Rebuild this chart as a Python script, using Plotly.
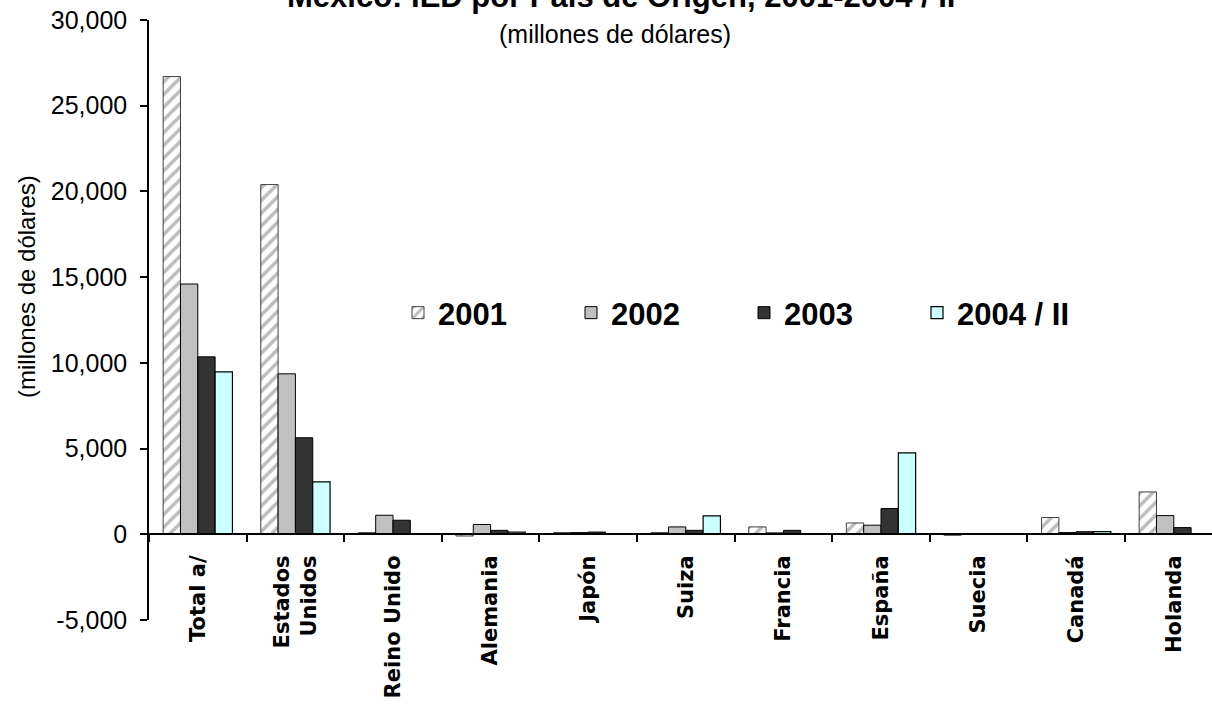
import plotly.graph_objects as go

categories = ["Total a/", "Estados<br>Unidos", "Reino Unido", "Alemania", "Japón", "Suiza",
              "Francia", "España", "Suecia", "Canadá", "Holanda"]
v2001 = [26700, 20400, 100, -100, 100, 100, 430, 660, -60, 980, 2470]
v2002 = [14600, 9360, 1110, 570, 100, 430, 80, 530, 0, 100, 1090]
v2003 = [10350, 5630, 820, 230, 130, 230, 230, 1500, 0, 150, 390]
v2004 = [9470, 3060, 0, 130, 0, 1070, 0, 4750, 0, 150, 0]
series_names = ["2001", "2002", "2003", "2004 / II"]
y_ticks = [-5000, 0, 5000, 10000, 15000, 20000, 25000, 30000]
y_ticktext = ["-5,000", "0", "5,000", "10,000", "15,000", "20,000", "25,000", "30,000"]

fig = go.Figure()
fig.add_trace(go.Bar(
    name=series_names[0], x=categories, y=v2001,
    marker=dict(color="white", line=dict(color="#404040", width=1),
                pattern=dict(shape="/", fgcolor="#7a7a7a", bgcolor="white", size=9, solidity=0.4)),
))
fig.add_trace(go.Bar(
    name=series_names[1], x=categories, y=v2002,
    marker=dict(color="#c0c0c0", line=dict(color="black", width=1)),
))
fig.add_trace(go.Bar(
    name=series_names[2], x=categories, y=v2003,
    marker=dict(color="#333333", line=dict(color="black", width=1)),
))
fig.add_trace(go.Bar(
    name=series_names[3], x=categories, y=v2004,
    marker=dict(color="#ccffff", line=dict(color="black", width=1.2)),
))

L, R, T, B = 149, 0, 20, 84
W, H = 1212, 704
pw = W - L - R
ph = H - T - B
cat_px = 97.6

fig.update_layout(
    width=W, height=H,
    margin=dict(l=L, r=R, t=T, b=B, autoexpand=False),
    paper_bgcolor="white", plot_bgcolor="white",
    barmode="group", bargap=0.29, bargroupgap=0,
    font=dict(family="Liberation Sans, Arial, sans-serif", color="black"),
    showlegend=True,
    legend=dict(orientation="h", x=(398 - L) / pw, xanchor="left",
                y=(620 - 313) / ph, yanchor="middle",
                entrywidth=128, entrywidthmode="pixels",
                font=dict(family="Liberation Sans, Arial, sans-serif",
                          size=31, color="black", weight="bold"),
                bgcolor="rgba(0,0,0,0)", traceorder="normal"),
    xaxis=dict(
        type="category",
        range=[-0.5, -0.5 + pw / cat_px],
        anchor="free", position=5000 / 35000,
        showline=True, linecolor="black", linewidth=1.5,
        ticks="outside", tickson="boundaries", ticklen=7, tickcolor="black", tickwidth=1.5,
        tickangle=-90, ticklabelstandoff=12,
        tickfont=dict(family="DejaVu Sans, Verdana, sans-serif", size=21, color="black", weight="bold"),
        showgrid=False, zeroline=False,
    ),
    yaxis=dict(
        range=[-5000, 30000],
        tickvals=y_ticks, ticktext=y_ticktext,
        showline=True, linecolor="black", linewidth=1.5,
        ticks="outside", ticklen=7, tickcolor="black", tickwidth=1.5,
        ticklabelstandoff=8,
        tickfont=dict(family="Liberation Sans, Arial, sans-serif", size=25, color="black"),
        showgrid=False, zeroline=False,
    ),
    annotations=[
        dict(text="<b>México: IED por País de Origen, 2001-2004 / II</b>",
             xref="paper", yref="paper", x=(621 - L) / pw, y=1, yshift=24,
             xanchor="center", yanchor="middle", showarrow=False,
             font=dict(family="Liberation Sans, Arial, sans-serif", size=31, color="black")),
        dict(text="(millones de dólares)", xref="paper", yref="paper",
             x=(615 - L) / pw, y=(620 - 34) / ph, xanchor="center", yanchor="middle",
             showarrow=False,
             font=dict(family="Liberation Sans, Arial, sans-serif", size=25, color="black")),
        dict(text="(millones de dólares)", xref="paper", yref="paper",
             x=(27 - L) / pw, y=(620 - 287) / ph, xanchor="center", yanchor="middle",
             textangle=-90, showarrow=False,
             font=dict(family="Liberation Sans, Arial, sans-serif", size=24, color="black")),
    ],
)

fig.write_html("out.html", config={"displayModeBar": False},
               post_script="document.body.style.margin='0';document.body.style.overflow='hidden';")
